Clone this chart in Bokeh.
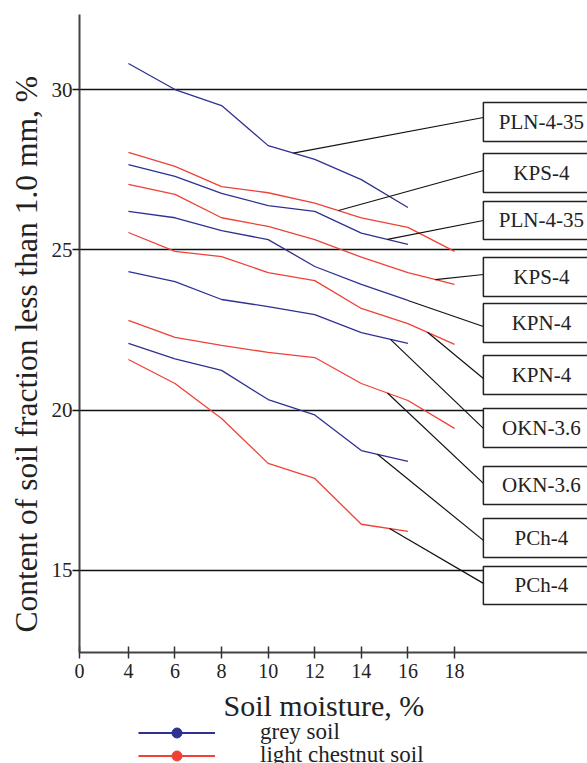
import numpy as np
from bokeh.plotting import figure
from bokeh.layouts import column
from bokeh.models import FixedTicker, Legend, LegendItem, Range1d, Title, Label
from bokeh.core.properties import value
from bokeh.embed import file_html
from bokeh.resources import INLINE

# ---------------- data ----------------
moisture_grey = [4, 6, 8, 10, 12, 14, 16]
moisture_chestnut = [4, 6, 8, 10, 12, 14, 16, 18]
moisture_chestnut_short = [4, 6, 8, 10, 12, 14, 16]

grey_1 = [30.81, 30.00, 29.50, 28.25, 27.82, 27.19, 26.32]
grey_2 = [27.66, 27.29, 26.76, 26.38, 26.20, 25.52, 25.17]
grey_3 = [26.20, 26.00, 25.60, 25.32, 24.48, 23.92, 23.42]
grey_4 = [24.32, 24.01, 23.45, 23.23, 22.98, 22.42, 22.08]
grey_5 = [22.08, 21.60, 21.24, 20.33, 19.85, 18.74, 18.40]

chestnut_1 = [28.04, 27.60, 26.97, 26.78, 26.46, 26.00, 25.70, 24.95]
chestnut_2 = [27.04, 26.73, 26.00, 25.73, 25.32, 24.77, 24.29, 23.92]
chestnut_3 = [25.54, 24.95, 24.79, 24.29, 24.04, 23.17, 22.70, 22.05]
chestnut_4 = [22.80, 22.27, 22.02, 21.80, 21.64, 20.83, 20.30, 19.43]
chestnut_5 = [21.58, 20.83, 19.74, 18.34, 17.87, 16.44, 16.22]

x_ticks = [1.9, 4, 6, 8, 10, 12, 14, 16, 18]
x_tick_labels = ["0", "4", "6", "8", "10", "12", "14", "16", "18"]
y_ticks = [15, 20, 25, 30]

x_title = "Soil moisture, %"
y_title = "Content of soil fraction less than 1.0 mm, %"
box_labels = ["PLN-4-35", "KPS-4", "PLN-4-35", "KPS-4", "KPN-4",
              "KPN-4", "OKN-3.6", "OKN-3.6", "PCh-4", "PCh-4"]
legend_labels = ["grey soil", "light chestnut soil"]

# ---------------- styling / layout ----------------
BLUE = "#2e3192"
RED = "#ef4136"
FONT = "Liberation Serif"
TXT = "#222222"

x_rng = Range1d(1.9, 23.71)
p = figure(width=587, height=686, output_backend="svg", toolbar_location=None,
           x_range=x_rng, y_range=Range1d(12.44, 32.34),
           min_border_left=79, min_border_right=0, min_border_top=14,
           min_border_bottom=34)
p.outline_line_color = None
p.background_fill_color = "white"
p.border_fill_color = "white"

# grids
p.xgrid.visible = False
p.ygrid.ticker = FixedTicker(ticks=y_ticks)
p.ygrid.grid_line_color = "#111111"
p.ygrid.grid_line_width = 1.5

# x axis
xa = p.xaxis[0]
xa.ticker = FixedTicker(ticks=x_ticks)
xa.major_label_overrides = {t: l for t, l in zip(x_ticks, x_tick_labels)}
xa.axis_line_color = "#444444"
xa.axis_line_width = 2
xa.major_tick_in = 6
xa.major_tick_out = 6
xa.major_tick_line_color = "#333333"
xa.major_tick_line_width = 1.5
xa.minor_tick_line_color = None
xa.major_label_text_font = FONT
xa.major_label_text_font_size = "20px"
xa.major_label_text_color = TXT
xa.major_label_standoff = 5

# y axis
ya = p.yaxis[0]
ya.ticker = FixedTicker(ticks=y_ticks)
ya.axis_line_color = "#444444"
ya.axis_line_width = 2
ya.major_tick_in = 0
ya.major_tick_out = 7
ya.major_tick_line_color = "#111111"
ya.major_tick_line_width = 1.5
ya.minor_tick_line_color = None
ya.major_label_text_font = FONT
ya.major_label_text_font_size = "21px"
ya.major_label_text_color = TXT
ya.major_label_standoff = 0

ty = Title(text=y_title, align="left", offset=20, vertical_align="bottom", standoff=10,
           text_font=FONT, text_font_size="31.5px", text_font_style="normal",
           text_color=TXT)
p.add_layout(ty, "left")

# series lines
grey_series = [grey_1, grey_2, grey_3, grey_4, grey_5]
chestnut_series = [chestnut_1, chestnut_2, chestnut_3, chestnut_4, chestnut_5]
chestnut_x = [moisture_chestnut] * 4 + [moisture_chestnut_short]

for s in grey_series:
    p.line(moisture_grey, s, line_color=BLUE, line_width=1.3)
for xs, s in zip(chestnut_x, chestnut_series):
    p.line(xs, s, line_color=RED, line_width=1.3)

# leader lines: (series x, series y, anchor x on curve, y at box edge)
box_left = 19.24
box_right = 25.0
box_text_x = 21.73
leader_src = [
    (moisture_grey, grey_1, 11.08, 29.127),
    (moisture_chestnut, chestnut_1, 13.02, 27.474),
    (moisture_grey, grey_2, 15.12, 25.915),
    (moisture_chestnut, chestnut_2, 17.18, 24.231),
    (moisture_grey, grey_3, 16.0, 22.610),
    (moisture_chestnut, chestnut_3, 16.84, 20.988),
    (moisture_grey, grey_4, 15.25, 19.429),
    (moisture_chestnut, chestnut_4, 15.12, 17.715),
    (moisture_grey, grey_5, 14.69, 15.937),
    (moisture_chestnut_short, chestnut_5, 15.21, 14.596),
]
lx0, ly0, lx1, ly1 = [], [], [], []
for xs, ys, ax, by in leader_src:
    lx0.append(ax)
    ly0.append(float(np.interp(ax, xs, ys)))
    lx1.append(box_left)
    ly1.append(by)
p.segment(lx0, ly0, lx1, ly1, line_color="#111111", line_width=1.2)

box_tops = [29.595, 28.004, 26.508, 24.761, 23.327, 21.706, 20.053, 18.244, 16.623, 15.126]
box_bottoms = [28.379, 26.788, 25.323, 23.545, 22.111, 20.490, 18.837, 17.060, 15.407, 13.941]
p.quad(left=[box_left] * 10, right=[box_right] * 10, top=box_tops, bottom=box_bottoms,
       fill_color="white", line_color="#222222", line_width=1.5)
p.text(x=[box_text_x] * 10, y=[(a + b) / 2 for a, b in zip(box_tops, box_bottoms)],
       text=box_labels, text_align="center", text_baseline="middle",
       text_font=value(FONT), text_font_size="21px", text_color=TXT)

# ---------------- x title + legend strip ----------------
p2 = figure(width=587, height=77, output_backend="svg", toolbar_location=None, title=None,
            x_range=x_rng, y_range=Range1d(0, 77),
            x_axis_location=None, y_axis_location=None,
            min_border_left=0, min_border_right=0, min_border_top=0, min_border_bottom=0)
p2.outline_line_color = None
p2.xgrid.visible = False
p2.ygrid.visible = False

p2.add_layout(Label(x=144, y=58.5, x_units="screen", y_units="screen", text=x_title,
                    text_align="left", text_baseline="alphabetic",
                    text_font=FONT, text_font_size="30px", text_color=TXT))

g_line = p2.line(moisture_grey, grey_1, line_color=BLUE, line_width=2, visible=False)
g_dot = p2.scatter(moisture_grey, grey_1, color=BLUE, visible=False)
c_line = p2.line(moisture_chestnut, chestnut_1, line_color=RED, line_width=2, visible=False)
c_dot = p2.scatter(moisture_chestnut, chestnut_1, color=RED, visible=False)

for lab, rends, loc in [(legend_labels[0], [g_line, g_dot], (59, 18)),
                        (legend_labels[1], [c_line, c_dot], (59, -5))]:
    lg = Legend(items=[LegendItem(label=lab, renderers=rends)], location=loc)
    lg.glyph_width = 77
    lg.glyph_height = 25
    lg.label_standoff = 45
    lg.padding = 0
    lg.margin = 0
    lg.spacing = 0
    lg.border_line_color = None
    lg.background_fill_alpha = 0
    lg.label_text_font = FONT
    lg.label_text_font_size = "23px"
    lg.label_text_color = TXT
    p2.add_layout(lg)

open("out.html", "w").write(file_html(column(p, p2), INLINE))
